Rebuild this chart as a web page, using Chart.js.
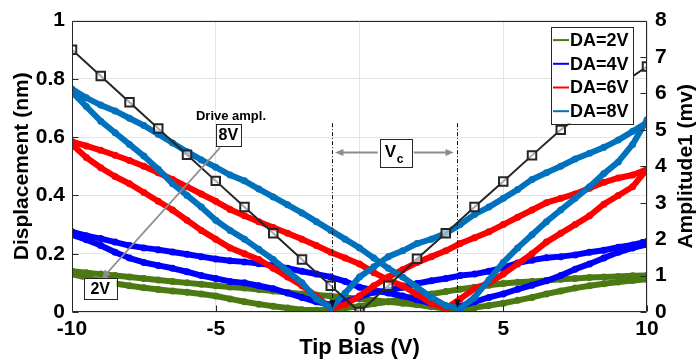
<!DOCTYPE html>
<html><head><meta charset="utf-8">
<script src="https://cdn.jsdelivr.net/npm/chart.js@4.4.0/dist/chart.umd.min.js"></script>
<style>html,body{margin:0;padding:0;background:#fff;}#wrap{width:698px;height:364px;}</style>
</head><body><div id="wrap"><canvas id="c" width="698" height="364"></canvas></div>
<script>
// ---- data (tip bias in V, displacement in nm) ----
const bias = [-10,-9.5,-9,-8.5,-8,-7.5,-7,-6.5,-6,-5.5,-5,-4.5,-4,-3.5,-3,-2.5,-2,-1.5,-1,-0.5,0,0.5,1,1.5,2,2.5,3,3.5,4,4.5,5,5.5,6,6.5,7,7.5,8,8.5,9,9.5,10];
const da2Fwd = [.14,.135,.13,.125,.12,.115,.11,.105,.1,.095,.09,.086,.082,.077,.072,.067,.062,.058,.055,.05,.045,.04,.035,.03,.025,.018,.012,.008,.015,.022,.03,.04,.05,.062,.072,.082,.09,.097,.103,.108,.112];
const da2Rev = [.13,.118,.107,.098,.09,.083,.077,.072,.068,.062,.055,.045,.035,.027,.02,.014,.008,.006,.008,.014,.02,.028,.035,.045,.055,.062,.07,.078,.085,.092,.098,.102,.105,.108,.112,.115,.118,.12,.122,.124,.125];
const da4Fwd = [.275,.262,.252,.24,.228,.22,.214,.206,.198,.19,.182,.176,.172,.166,.16,.15,.14,.13,.12,.105,.085,.075,.065,.055,.042,.03,.018,.02,.035,.05,.062,.078,.092,.107,.125,.147,.165,.185,.205,.22,.232];
const da4Rev = [.265,.248,.228,.205,.185,.17,.16,.15,.138,.125,.115,.105,.1,.09,.08,.065,.05,.035,.025,.035,.052,.068,.073,.085,.098,.107,.115,.125,.13,.14,.152,.168,.178,.186,.19,.196,.205,.212,.222,.23,.242];
const da6Fwd = [.585,.57,.555,.538,.52,.5,.478,.455,.43,.405,.38,.352,.33,.31,.29,.27,.25,.228,.205,.185,.165,.135,.11,.09,.06,.03,.012,.045,.08,.1,.13,.165,.2,.24,.27,.3,.33,.37,.4,.43,.49];
const da6Rev = [.575,.53,.495,.465,.44,.41,.38,.35,.315,.28,.25,.22,.2,.18,.15,.12,.09,.055,.012,.025,.055,.09,.12,.145,.17,.19,.21,.235,.255,.275,.3,.325,.35,.375,.39,.405,.425,.445,.46,.47,.49];
const da8Fwd = [.765,.735,.71,.69,.665,.64,.61,.58,.55,.522,.497,.47,.45,.422,.395,.368,.34,.31,.28,.25,.22,.185,.15,.12,.085,.05,.022,.012,.05,.11,.17,.22,.265,.31,.35,.39,.43,.475,.515,.575,.66];
const da8Rev = [.755,.705,.655,.615,.575,.535,.49,.44,.4,.36,.315,.28,.25,.215,.18,.14,.1,.045,.015,.065,.12,.155,.19,.21,.235,.25,.27,.3,.335,.36,.39,.42,.455,.478,.5,.525,.545,.565,.59,.62,.65];
// amplitude reference curve (mV, right axis)
const refBias = [-10,-9,-8,-7,-6,-5,-4,-3,-2,-1,0,1,2,3,4,5,6,7,8,9,10];
const refAmp = [7.2,6.48,5.76,5.04,4.32,3.6,2.88,2.16,1.44,0.72,0,0.72,1.46,2.16,2.88,3.58,4.3,5.0,5.6,6.2,6.74];
const seriesLabels = ['DA=2V','DA=4V','DA=6V','DA=8V'];
const seriesColors = ['#4b7a12','#0000ff','#ff0000','#0072bd'];
const vcBias = [-0.95, 3.38];

const FONT = '"Liberation Sans", Arial, Helvetica, sans-serif';
Chart.defaults.font.family = FONT;
Chart.defaults.font.weight = 'bold';
Chart.defaults.color = '#111';

const pts = (xs, ys) => xs.map((x, i) => ({x, y: ys[i]}));
const branches = [[da2Fwd, da2Rev],[da4Fwd, da4Rev],[da6Fwd, da6Rev],[da8Fwd, da8Rev]];
const datasets = [];
branches.forEach((pair, s) => {
  pair.forEach((vals, k) => {
    datasets.push({
      label: seriesLabels[s], legendItem: k === 0, data: pts(bias, vals), yAxisID: 'y',
      borderColor: seriesColors[s], backgroundColor: seriesColors[s],
      borderWidth: 6, pointRadius: 3.5, pointBorderWidth: 0, pointBackgroundColor: seriesColors[s],
      borderJoinStyle: 'round', borderCapStyle: 'round', tension: 0, order: 10 - s
    });
  });
});
datasets.push({
  label: 'Amplitude1', legendItem: false, data: pts(refBias, refAmp), yAxisID: 'y2',
  borderColor: '#262626', borderWidth: 2, pointStyle: 'rect', pointRadius: 6,
  pointBorderColor: '#262626', pointBackgroundColor: 'rgba(255,255,255,0.6)', pointBorderWidth: 2, order: 0
});

const P = 'px ' + FONT;
function arrowLine(ctx, x1, y1, x2, y2, head, color, w) {
  ctx.save(); ctx.strokeStyle = color; ctx.fillStyle = color; ctx.lineWidth = w;
  const a = Math.atan2(y2 - y1, x2 - x1);
  ctx.beginPath(); ctx.moveTo(x1, y1); ctx.lineTo(x2 - Math.cos(a) * head * 0.6, y2 - Math.sin(a) * head * 0.6); ctx.stroke();
  ctx.beginPath(); ctx.moveTo(x2, y2);
  ctx.lineTo(x2 - head * Math.cos(a - 0.4), y2 - head * Math.sin(a - 0.4));
  ctx.lineTo(x2 - head * Math.cos(a + 0.4), y2 - head * Math.sin(a + 0.4));
  ctx.closePath(); ctx.fill(); ctx.restore();
}
function boxText(ctx, cx, cy, w, h, txt, size) {
  ctx.save(); ctx.fillStyle = '#fff'; ctx.fillRect(cx - w/2, cy - h/2, w, h);
  ctx.strokeStyle = '#262626'; ctx.lineWidth = 1; ctx.strokeRect(Math.round(cx - w/2) + .5, Math.round(cy - h/2) + .5, w, h);
  ctx.fillStyle = '#000'; ctx.font = 'bold ' + size + P; ctx.textAlign = 'center'; ctx.textBaseline = 'middle';
  ctx.fillText(txt, cx, cy + 1); ctx.restore();
}

const overlay = {
  id: 'overlay',
  afterDatasetsDraw(chart) {
    const ctx = chart.ctx, xs = chart.scales.x, ys = chart.scales.y, y2 = chart.scales.y2, ca = chart.chartArea;
    const X = v => xs.getPixelForValue(v), Y = v => ys.getPixelForValue(v);
    // Vc dashed lines
    ctx.save(); ctx.strokeStyle = '#111'; ctx.lineWidth = 1; ctx.setLineDash([4, 2, 1, 2]);
    vcBias.forEach(b => { const px = Math.round(X(b)) + .5; ctx.beginPath(); ctx.moveTo(px, Y(0.648)); ctx.lineTo(px, Y(0.02)); ctx.stroke(); });
    ctx.setLineDash([]); ctx.fillStyle = '#111';
    vcBias.forEach(b => { const px = Math.round(X(b)) + .5, py = Y(0.012); ctx.beginPath(); ctx.moveTo(px, py); ctx.lineTo(px - 3, py - 9); ctx.lineTo(px + 3, py - 9); ctx.closePath(); ctx.fill(); });
    ctx.restore();
    // Vc box with arrows
    const vcx = X(1.26), vcy = Y(0.547);
    arrowLine(ctx, vcx - 18, vcy, X(-0.85), vcy, 9, '#8c8c8c', 2);
    arrowLine(ctx, vcx + 18, vcy, X(3.28), vcy, 9, '#8c8c8c', 2);
    ctx.save(); ctx.fillStyle = '#fff'; ctx.fillRect(vcx - 16, vcy - 14, 32, 28);
    ctx.strokeStyle = '#262626'; ctx.lineWidth = 1; ctx.strokeRect(Math.round(vcx - 16) + .5, Math.round(vcy - 14) + .5, 32, 28);
    ctx.fillStyle = '#000'; ctx.textBaseline = 'alphabetic'; ctx.textAlign = 'left';
    ctx.font = 'bold 17' + P; ctx.fillText('V', vcx - 11, vcy + 4);
    ctx.font = 'bold 12' + P; ctx.fillText('c', vcx + 1, vcy + 10);
    ctx.restore();
    // Drive amplitude annotation
    arrowLine(ctx, X(-4.85), Y(0.564), X(-8.97), Y(0.113), 10, '#8c8c8c', 1.6);
    ctx.save(); ctx.fillStyle = '#000'; ctx.font = 'bold 13' + P; ctx.textAlign = 'center'; ctx.textBaseline = 'middle';
    ctx.fillText('Drive ampl.', X(-4.47), Y(0.672)); ctx.restore();
    boxText(ctx, X(-4.56), Y(0.609), 25, 22, '8V', 16);
    boxText(ctx, X(-9.02), Y(0.080), 33, 21, '2V', 16);
    // frame and inward ticks
    ctx.save(); ctx.strokeStyle = '#262626'; ctx.lineWidth = 1;
    const L = Math.round(ca.left) + .5, R = Math.round(ca.right) - .5, T = Math.round(ca.top) + .5, B = Math.round(ca.bottom) - .5;
    ctx.beginPath(); ctx.moveTo(L, B); ctx.lineTo(L, T); ctx.lineTo(R, T); ctx.lineTo(R, B); ctx.lineTo(L, B); ctx.stroke();
    ctx.beginPath();
    ys.ticks.forEach(t => { const p = Math.round(ys.getPixelForValue(t.value)) + .5; ctx.moveTo(L, p); ctx.lineTo(L + 6, p); });
    y2.ticks.forEach(t => { const p = Math.round(y2.getPixelForValue(t.value)) + .5; ctx.moveTo(R, p); ctx.lineTo(R - 6, p); });
    xs.ticks.forEach(t => { const p = Math.round(xs.getPixelForValue(t.value)) + .5; ctx.moveTo(p, B); ctx.lineTo(p, B - 6); });
    ctx.stroke(); ctx.restore();
  },
  afterDraw(chart) {
    const ctx = chart.ctx, ca = chart.chartArea;
    // legend
    const w = 82, h = 97, lx = ca.right - 14 - w, ly = ca.top + 6;
    ctx.save(); ctx.fillStyle = '#fff'; ctx.fillRect(lx, ly, w, h);
    ctx.strokeStyle = '#262626'; ctx.lineWidth = 1; ctx.strokeRect(Math.round(lx) + .5, Math.round(ly) + .5, w, h);
    const items = chart.data.datasets.filter(d => d.legendItem);
    ctx.font = 'bold 18' + P; ctx.textBaseline = 'middle'; ctx.textAlign = 'left';
    items.forEach((d, i) => {
      const ry = ly + 13.5 + i * 23.7;
      ctx.strokeStyle = d.borderColor; ctx.lineWidth = 2; ctx.beginPath(); ctx.moveTo(lx + 2, ry); ctx.lineTo(lx + 18, ry); ctx.stroke();
      ctx.fillStyle = '#000'; ctx.fillText(d.label, lx + 19, ry + 1);
    });
    ctx.restore();
    // right axis title (reads bottom to top)
    ctx.save(); ctx.translate(686, (ca.top + ca.bottom) / 2); ctx.rotate(-Math.PI / 2);
    ctx.fillStyle = '#000'; ctx.font = 'bold 21' + P; ctx.textAlign = 'center'; ctx.textBaseline = 'middle';
    ctx.fillText('Amplitude1 (mv)', 0, 0); ctx.restore();
  }
};

const fmt = v => String(Number(Number(v).toFixed(1)));

new Chart(document.getElementById('c'), {
  type: 'line',
  data: { datasets },
  options: {
    responsive: false, devicePixelRatio: 1, animation: false, parsing: true,
    layout: { padding: { top: 16, right: 0, bottom: 0, left: 0 } },
    plugins: { legend: { display: false }, tooltip: { enabled: false } },
    scales: {
      x: {
        type: 'linear', min: -10, max: 10,
        ticks: { stepSize: 5, font: { size: 21, weight: 'bold' }, color: '#000', padding: 5, maxRotation: 0, autoSkip: false, callback: fmt },
        grid: { color: '#e4e4e4', drawTicks: false, lineWidth: 1 },
        border: { display: false },
        title: { display: true, text: 'Tip Bias (V)', font: { size: 22, weight: 'bold' }, color: '#000', padding: { top: 0, bottom: 3 } },
        afterFit: s => { s.height = 52; }
      },
      y: {
        type: 'linear', position: 'left', min: 0, max: 1,
        ticks: { stepSize: 0.2, font: { size: 21, weight: 'bold' }, color: '#000', padding: 7, callback: fmt },
        grid: { color: '#e4e4e4', drawTicks: false, lineWidth: 1 },
        border: { display: false },
        title: { display: true, text: 'Displacement (nm)', font: { size: 21, weight: 'bold' }, color: '#000', padding: { top: 10, bottom: 0 } },
        afterFit: s => { s.width = 72; }
      },
      y2: {
        type: 'linear', position: 'right', min: 0, max: 8,
        ticks: { stepSize: 1, font: { size: 21, weight: 'bold' }, color: '#000', padding: 8, callback: fmt },
        grid: { drawOnChartArea: false, drawTicks: false },
        border: { display: false },
        afterFit: s => { s.width = 51; }
      }
    }
  },
  plugins: [overlay]
});
</script></body></html>
